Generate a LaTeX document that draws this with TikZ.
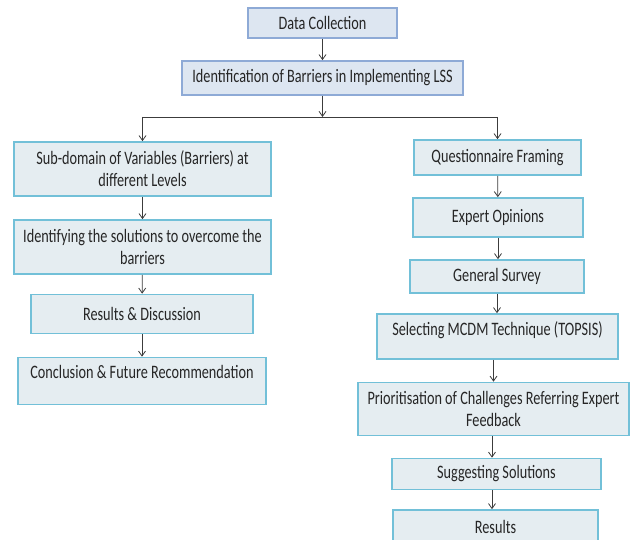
\documentclass[tikz,border=0pt]{standalone}
\usepackage{fontspec}
\setmainfont{Carlito}
\newfontfamily\boxfont[FakeStretch=0.75]{Carlito}
\usetikzlibrary{arrows.meta}
\definecolor{topline}{HTML}{8EAAD6}
\definecolor{topfill}{HTML}{DDE6F1}
\definecolor{boxline}{HTML}{72C0D8}
\definecolor{boxfill}{HTML}{E5EDF1}
\definecolor{arrowgray}{HTML}{3C3C3C}
\begin{document}
\begin{tikzpicture}
        [x=1pt, y=-1pt,
        box/.style={rectangle, draw=boxline, fill=boxfill, line width=1.6pt, align=center,
          inner sep=0pt, text=black!85, font=\boxfont\fontsize{19}{22}\selectfont},
        topbox/.style={box, draw=topline, fill=topfill},
        raised/.style={text depth=#1},
        arr/.style={-{Straight Barb[length=5pt, width=7pt]}, arrowgray, line width=0.8pt},
        link/.style={arrowgray, line width=0.8pt}]

        \useasboundingbox (0,0) rectangle (632,540);
        \clip (0,0) rectangle (632,540);

        % top of the chart
        \node[topbox, minimum width=149, minimum height=30] (dc) at (322.5,23) {Data Collection};
        \node[topbox, minimum width=281, minimum height=34] (ibl) at (322.5,78) {Identification of Barriers in Implementing LSS};

        % left branch
        \node[box, minimum width=257, minimum height=54] (sub) at (142.5,169) {Sub-domain of Variables (Barriers) at\\different Levels};
        \node[box, minimum width=257, minimum height=54] (sol) at (142.5,247) {Identifying the solutions to overcome the\\barriers};
        \node[box, minimum width=222, minimum height=39] (rdisc) at (142,314) {Results \& Discussion};
        \node[box, raised=18pt, minimum width=248, minimum height=47] (concl) at (142,381) {Conclusion \& Future Recommendation};

        % right branch
        \node[box, minimum width=167, minimum height=35] (quest) at (497.5,157.5) {Questionnaire Framing};
        \node[box, minimum width=170, minimum height=39] (expert) at (498,217.5) {Expert Opinions};
        \node[box, minimum width=174, minimum height=33] (survey) at (497,276.5) {General Survey};
        \node[box, raised=15pt, minimum width=241, minimum height=45] (mcdm) at (497.5,336.5) {Selecting MCDM Technique (TOPSIS)};
        \node[box, minimum width=271, minimum height=53] (prio) at (493.5,409) {Prioritisation of Challenges Referring Expert\\Feedback};
        \node[box, minimum width=209, minimum height=31] (sugg) at (496.5,474) {Suggesting Solutions};
        \node[box, minimum width=205, minimum height=34] (res) at (495.5,527) {Results};

        % split point
        \coordinate (split) at (322.5,117);
        \coordinate (splitL) at (142.5,117);
        \coordinate (splitR) at (497.5,117);

        % connectors
        \draw[arr] (dc) -- (ibl);
        \draw[arr] (ibl) -- (split);
        \draw[link] (splitL) -- (splitR);
        \draw[arr] (splitL) -- (sub);
        \draw[arr] (splitR) -- (quest);

        \draw[arr] (sub) -- (sol);
        \draw[arr] (sol) -- (rdisc);
        \draw[arr] (rdisc) -- (concl);

        \draw[arr] (quest) -- (expert);
        \draw[arr] (expert.south) -- (expert.south |- survey.north);
        \draw[arr] (survey.south) -- (survey.south |- mcdm.north);
        \draw[arr] (mcdm.south -| prio) -- (prio);
        \draw[arr] (prio.south -| 492,0) -- (492,0 |- sugg.north);
        \draw[arr] (sugg.south -| 492,0) -- (492,0 |- res.north);

        \end{tikzpicture}
\end{document}
